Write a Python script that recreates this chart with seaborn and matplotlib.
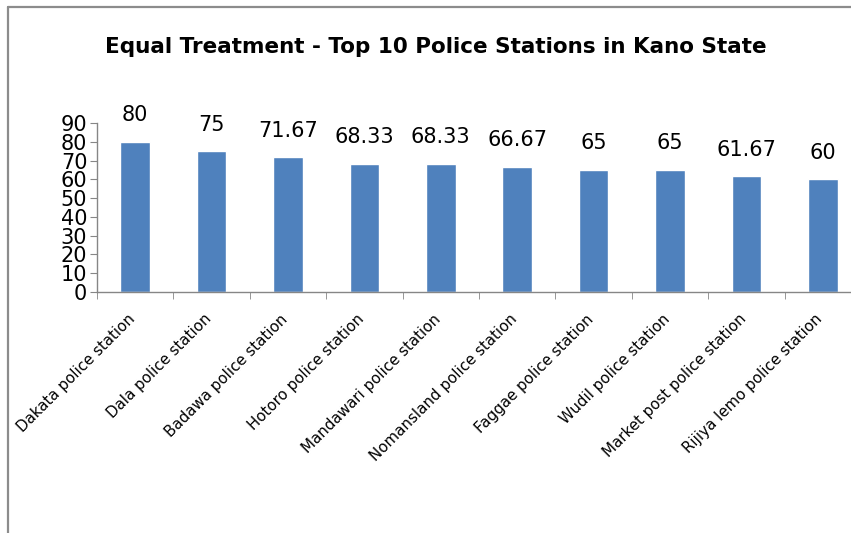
import matplotlib
matplotlib.use("Agg")
import matplotlib.pyplot as plt
import seaborn as sns
import pandas as pd
import numpy as np
from matplotlib.lines import Line2D
import matplotlib.transforms as mtransforms

stations = ["Dakata police station", "Dala police station", "Badawa police station",
            "Hotoro police station", "Mandawari police station", "Nomansland police station",
            "Faggae police station", "Wudil police station", "Market post police station",
            "Rijiya lemo police station"]
scores = [80, 75, 71.67, 68.33, 68.33, 66.67, 65, 65, 61.67, 60]
value_labels = ["80", "75", "71.67", "68.33", "68.33", "66.67", "65", "65", "61.67", "60"]
y_ticks = [0, 10, 20, 30, 40, 50, 60, 70, 80, 90]
title = "Equal Treatment - Top 10 Police Stations in Kano State"

sns.set_style("white")
plt.rcParams['font.family'] = ['DejaVu Sans']
plt.rcParams['text.color'] = 'black'
plt.rcParams['xtick.labelcolor'] = 'black'
plt.rcParams['ytick.labelcolor'] = 'black'

W, H = 851, 533
fig = plt.figure(figsize=(W / 100, H / 100), dpi=100)
x0, x1 = 97, 861
y_top, y_bot = 123, 292
ax = fig.add_axes([x0 / W, 1 - y_bot / H, (x1 - x0) / W, (y_bot - y_top) / H])

df = pd.DataFrame({"station": stations, "score": scores})
sns.barplot(data=df, x="station", y="score", ax=ax, color="#4F81BD",
            saturation=1, width=0.39)

ax.set_xlim(-0.5, 9.5)
ax.set_ylim(0, 90)
ax.set_yticks(y_ticks)
ax.set_yticklabels([str(t) for t in y_ticks], fontsize=15)
ax.set_xlabel("")
ax.set_ylabel("")

axis_color = "#868686"
for s in ["top", "right"]:
    ax.spines[s].set_visible(False)
for s in ["left", "bottom"]:
    ax.spines[s].set_color(axis_color)
    ax.spines[s].set_linewidth(1.0)

ax.tick_params(axis="y", which="major", direction="out", length=5, color=axis_color,
               left=True, pad=2, labelsize=15)
ax.set_xticks(range(len(stations)))
ax.set_xticklabels(stations, rotation=45, ha="right", rotation_mode="anchor", fontsize=10.8)
ax.tick_params(axis="x", which="major", length=0, pad=14)
offset = mtransforms.ScaledTranslation(-8 / 100, 0, fig.dpi_scale_trans)
for lbl in ax.get_xticklabels():
    lbl.set_transform(lbl.get_transform() + offset)
ax.set_xticks(np.arange(-0.5, 10.0, 1.0), minor=True)
ax.tick_params(axis="x", which="minor", direction="out", length=5, color=axis_color, bottom=True)

for i, (v, lab) in enumerate(zip(scores, value_labels)):
    ax.annotate(lab, (i, v), xytext=(0, 12), textcoords="offset points",
                ha="center", va="bottom", fontsize=15, color="black",
                annotation_clip=False)

fig.text(436 / W, 1 - 47 / H, title, ha="center", va="center", fontsize=15.5,
         fontweight="bold", color="black")

# outer chart frame (left and top edges)
fig.add_artist(Line2D([8 / W, 8 / W], [1 - 7 / H, 0], transform=fig.transFigure,
                      color="#8c8c8c", linewidth=1.6))
fig.add_artist(Line2D([8 / W, 1], [1 - 7 / H, 1 - 7 / H], transform=fig.transFigure,
                      color="#8c8c8c", linewidth=1.6))

fig.savefig("out.png", dpi=100)
